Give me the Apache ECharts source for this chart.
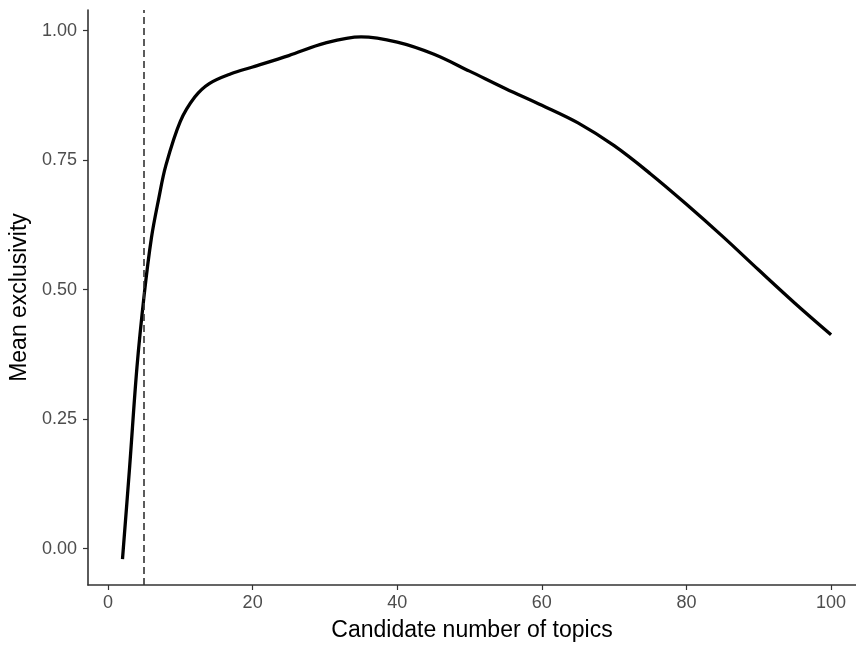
<!DOCTYPE html>
<html lang="en">
<head>
<meta charset="UTF-8">
<title>Mean exclusivity</title>
<script src="https://cdn.jsdelivr.net/npm/echarts@6/dist/echarts.min.js"></script>
<style>
  html, body { margin: 0; padding: 0; background: #fff; }
  #chart { width: 856px; height: 646px; }
</style>
</head>
<body>
<div id="chart"></div>
<script>
// candidate number of topics and smoothed mean exclusivity
var topics = [2, 3, 4, 5, 6, 7, 8, 10, 12, 14, 17, 20, 25, 30, 35, 40, 45, 50, 55, 60, 65, 70, 75, 80, 85, 90, 95, 100];
var exclusivity = [-0.02, 0.16, 0.35, 0.49, 0.60, 0.675, 0.74, 0.825, 0.872, 0.898, 0.917, 0.93, 0.952, 0.976, 0.988, 0.978, 0.955, 0.922, 0.888, 0.856, 0.822, 0.778, 0.724, 0.665, 0.603, 0.538, 0.474, 0.413];
var xTicks = [0, 20, 40, 60, 80, 100];
var yTicks = [0, 0.25, 0.5, 0.75, 1];
var chosenK = 5;

var points = topics.map(function (t, i) { return [t, exclusivity[i]]; });

var chart = echarts.init(document.getElementById('chart'));

var option = {
    backgroundColor: '#fff',
    animation: false,
    grid: { left: 88, right: 0, top: 10, bottom: 61, outerBoundsMode: 'none' },
    xAxis: {
        type: 'value',
        min: -2.77,
        max: 103.45,
        name: 'Candidate number of topics',
        nameLocation: 'middle',
        nameGap: 34,
        nameTextStyle: { fontFamily: 'Liberation Sans', fontSize: 23, color: '#000' },
        axisLine: { show: true, onZero: false, lineStyle: { color: '#333', width: 1.6 } },
        axisTick: { show: true, length: 5, lineStyle: { color: '#333', width: 1.2 }, customValues: xTicks },
        axisLabel: { fontFamily: 'Liberation Sans', fontSize: 18, color: '#4d4d4d', margin: 9, customValues: xTicks },
        splitLine: { show: false }
    },
    yAxis: {
        type: 'value',
        min: -0.07,
        max: 1.04,
        name: 'Mean exclusivity',
        nameLocation: 'middle',
        nameGap: 53,
        nameTextStyle: { fontFamily: 'Liberation Sans', fontSize: 23, color: '#000' },
        axisLine: { show: true, onZero: false, lineStyle: { color: '#333', width: 1.6 } },
        axisTick: { show: true, length: 5, lineStyle: { color: '#333', width: 1.2 }, customValues: yTicks },
        axisLabel: {
            fontFamily: 'Liberation Sans', fontSize: 18, color: '#4d4d4d', margin: 11,
            customValues: yTicks,
            formatter: function (v) { return v.toFixed(2); }
        },
        splitLine: { show: false }
    },
    series: [{
        type: 'line',
        data: points,
        smooth: 0.35,
        showSymbol: false,
        lineStyle: { color: '#000', width: 3.3 },
        markLine: {
            silent: true,
            symbol: 'none',
            label: { show: false },
            lineStyle: { color: '#333', width: 1.6, type: [7, 4] },
            data: [{ xAxis: chosenK }]
        }
    }]
};
chart.setOption(option);
</script>
</body>
</html>
